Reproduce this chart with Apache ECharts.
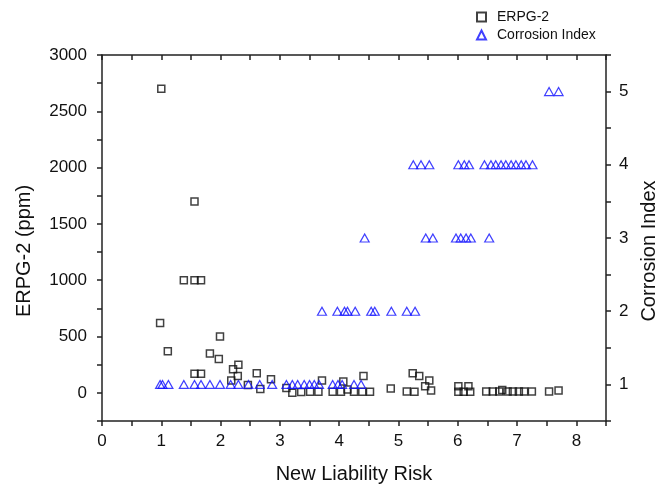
<!DOCTYPE html>
<html>
<head>
<meta charset="utf-8">
<script src="https://cdn.jsdelivr.net/npm/echarts@6/dist/echarts.min.js"></script>
<style>
  html, body { margin: 0; padding: 0; background: #fff; }
  #chart { width: 671px; height: 489px; }
</style>
</head>
<body>
<div id="chart"></div>
<script>
// ERPG-2 (ppm) against New Liability Risk
var erpgPoints = [
  [0.98, 620], [1.0, 2700], [1.11, 370], [1.38, 1000], [1.56, 1700], [1.56, 1000],
  [1.56, 170], [1.67, 1000], [1.67, 170], [1.82, 350], [1.97, 300], [1.99, 500],
  [2.18, 110], [2.21, 210], [2.29, 150], [2.30, 250], [2.46, 70], [2.61, 175],
  [2.67, 35], [2.85, 120], [3.11, 42], [3.21, 0], [3.36, 8], [3.51, 10], [3.65, 10],
  [3.71, 110], [3.89, 10], [4.03, 10], [4.07, 100], [4.14, 30], [4.25, 10],
  [4.39, 10], [4.41, 150], [4.52, 10], [4.87, 38], [5.14, 12], [5.24, 175],
  [5.27, 10], [5.35, 150], [5.45, 58], [5.52, 110], [5.55, 20], [6.01, 58],
  [6.18, 58], [6.01, 10], [6.10, 10], [6.21, 10], [6.48, 12], [6.59, 12],
  [6.70, 12], [6.75, 25], [6.84, 12], [6.93, 12], [7.03, 12], [7.12, 12],
  [7.25, 12], [7.54, 12], [7.70, 20]
];

// Corrosion Index against New Liability Risk
var corrosionPoints = [
  [0.98, 1], [1.02, 1], [1.12, 1], [1.38, 1], [1.56, 1], [1.67, 1], [1.82, 1],
  [1.99, 1], [2.17, 1], [2.30, 1], [2.47, 1], [2.66, 1], [2.87, 1], [3.11, 1],
  [3.21, 1], [3.30, 1], [3.41, 1], [3.50, 1], [3.58, 1], [3.66, 1], [3.89, 1],
  [3.98, 1], [4.05, 1], [4.25, 1], [4.37, 1],
  [3.71, 2], [3.97, 2], [4.09, 2], [4.14, 2], [4.27, 2], [4.54, 2], [4.60, 2],
  [4.88, 2], [5.14, 2], [5.28, 2],
  [4.43, 3], [5.46, 3], [5.58, 3], [5.97, 3], [6.05, 3], [6.14, 3], [6.22, 3],
  [6.53, 3],
  [5.25, 4], [5.38, 4], [5.52, 4], [6.01, 4], [6.11, 4], [6.19, 4], [6.45, 4],
  [6.56, 4], [6.64, 4], [6.73, 4], [6.81, 4], [6.90, 4], [6.98, 4], [7.07, 4],
  [7.15, 4], [7.26, 4],
  [7.54, 5], [7.70, 5]
];

var chart = echarts.init(document.getElementById('chart'));

var FONT = 'Liberation Sans, Arial, sans-serif';
var axisLine = { show: true, onZero: false, lineStyle: { color: '#222', width: 1.5 } };
var tickStyle = { color: '#222', width: 1.5 };

function intOnly(v) {
  return Math.abs(v - Math.round(v)) < 1e-6 ? String(Math.round(v)) : '';
}

var option = {
  animation: false,
  textStyle: { fontFamily: FONT },
  grid: { left: 102, right: 65, top: 55, bottom: 64 },
  legend: {
    orient: 'vertical',
    left: 471,
    top: 5,
    itemWidth: 9,
    itemHeight: 9,
    itemGap: 4,
    textStyle: { fontFamily: FONT, fontSize: 14, color: '#111', lineHeight: 14, padding: [0, 0, 0, 6] },
    data: ['ERPG-2', 'Corrosion Index']
  },
  xAxis: [
    {
      type: 'value',
      position: 'bottom',
      min: 0, max: 8.5, interval: 0.5,
      name: 'New Liability Risk',
      nameLocation: 'middle',
      nameGap: 43,
      nameTextStyle: { fontFamily: FONT, fontSize: 20, color: '#111' },
      axisLine: axisLine,
      axisTick: { show: true, inside: false, length: 5, lineStyle: tickStyle },
      axisLabel: { fontFamily: FONT, fontSize: 17, color: '#111', margin: 12, formatter: intOnly },
      splitLine: { show: false }
    },
    {
      type: 'value',
      position: 'top',
      min: 0, max: 8.5, interval: 0.5,
      axisLine: axisLine,
      axisTick: { show: true, inside: true, length: 5, lineStyle: tickStyle },
      axisLabel: { show: false },
      splitLine: { show: false }
    }
  ],
  yAxis: [
    {
      type: 'value',
      position: 'left',
      min: -250, max: 3000, interval: 250,
      name: 'ERPG-2 (ppm)',
      nameLocation: 'middle',
      nameRotate: 90,
      nameGap: 68,
      nameTextStyle: { fontFamily: FONT, fontSize: 20, color: '#111', padding: [0, 26, 0, 0] },
      axisLine: axisLine,
      axisTick: { show: true, inside: false, length: 5, lineStyle: tickStyle },
      axisLabel: {
        fontFamily: FONT, fontSize: 17, color: '#111', margin: 15,
        formatter: function (v) { return v % 500 === 0 ? String(v) : ''; }
      },
      splitLine: { show: false }
    },
    {
      type: 'value',
      position: 'right',
      min: 0.5, max: 5.5, interval: 0.5,
      name: 'Corrosion Index',
      nameLocation: 'middle',
      nameRotate: 90,
      nameGap: 32,
      nameTextStyle: { fontFamily: FONT, fontSize: 20, color: '#111', padding: [0, 26, 0, 0] },
      axisLine: axisLine,
      axisTick: { show: true, inside: false, length: 5, lineStyle: tickStyle },
      axisLabel: { fontFamily: FONT, fontSize: 17, color: '#111', margin: 13, formatter: intOnly },
      splitLine: { show: false }
    }
  ],
  series: [
    {
      name: 'ERPG-2',
      type: 'scatter',
      xAxisIndex: 0,
      yAxisIndex: 0,
      symbol: 'rect',
      symbolSize: 7,
      itemStyle: { color: 'rgba(0,0,0,0)', borderColor: '#111', borderWidth: 1.5 },
      data: erpgPoints
    },
    {
      name: 'Corrosion Index',
      type: 'scatter',
      xAxisIndex: 0,
      yAxisIndex: 1,
      symbol: 'triangle',
      symbolSize: [9, 8],
      itemStyle: { color: 'rgba(0,0,0,0)', borderColor: '#1010ff', borderWidth: 1.2 },
      data: corrosionPoints
    }
  ]
};

chart.setOption(option);
</script>
</body>
</html>
